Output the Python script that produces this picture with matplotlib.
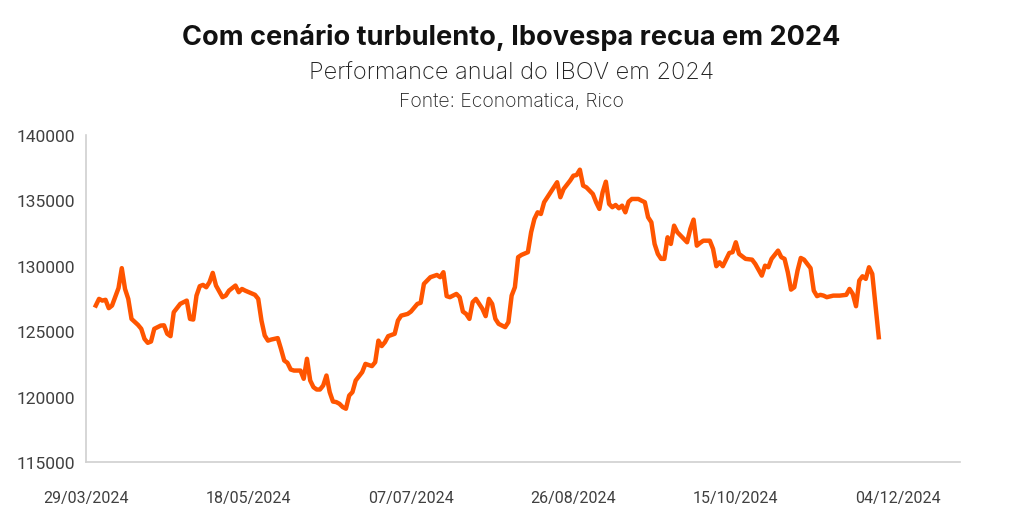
import pandas as pd
import matplotlib.pyplot as plt
import matplotlib.dates as mdates

# Pontos (IBOV, fechamento aproximado)
datas = [
    "2024-04-01", "2024-04-02", "2024-04-03", "2024-04-04", "2024-04-05", "2024-04-06",
    "2024-04-08", "2024-04-09", "2024-04-10", "2024-04-11", "2024-04-12", "2024-04-14",
    "2024-04-15", "2024-04-16", "2024-04-17", "2024-04-18", "2024-04-19", "2024-04-21",
    "2024-04-22", "2024-04-23", "2024-04-24", "2024-04-25", "2024-04-27", "2024-04-29",
    "2024-04-30",
    "2024-05-01", "2024-05-02", "2024-05-03", "2024-05-04", "2024-05-05", "2024-05-06",
    "2024-05-07", "2024-05-08", "2024-05-10", "2024-05-11", "2024-05-12", "2024-05-14",
    "2024-05-15", "2024-05-16", "2024-05-17", "2024-05-20", "2024-05-21", "2024-05-22",
    "2024-05-23", "2024-05-24", "2024-05-25", "2024-05-27", "2024-05-28", "2024-05-29",
    "2024-05-30", "2024-05-31",
    "2024-06-01", "2024-06-03", "2024-06-04", "2024-06-05", "2024-06-06", "2024-06-07",
    "2024-06-08", "2024-06-09", "2024-06-10", "2024-06-11", "2024-06-12", "2024-06-13",
    "2024-06-14", "2024-06-15", "2024-06-16", "2024-06-17", "2024-06-18", "2024-06-19",
    "2024-06-20", "2024-06-22", "2024-06-23", "2024-06-25", "2024-06-26", "2024-06-27",
    "2024-06-28", "2024-06-29", "2024-06-30",
    "2024-07-02", "2024-07-03", "2024-07-04", "2024-07-06", "2024-07-07", "2024-07-09",
    "2024-07-10", "2024-07-11", "2024-07-12", "2024-07-13", "2024-07-15", "2024-07-16",
    "2024-07-17", "2024-07-18", "2024-07-19", "2024-07-21", "2024-07-22", "2024-07-23",
    "2024-07-24", "2024-07-25", "2024-07-26", "2024-07-27", "2024-07-28", "2024-07-29",
    "2024-07-30", "2024-07-31",
    "2024-08-01", "2024-08-02", "2024-08-03", "2024-08-05", "2024-08-06", "2024-08-07",
    "2024-08-08", "2024-08-09", "2024-08-10", "2024-08-12", "2024-08-13", "2024-08-14",
    "2024-08-15", "2024-08-16", "2024-08-17", "2024-08-19", "2024-08-20", "2024-08-21",
    "2024-08-22", "2024-08-23", "2024-08-25", "2024-08-26", "2024-08-27", "2024-08-28",
    "2024-08-29", "2024-08-30",
    "2024-09-01", "2024-09-02", "2024-09-03", "2024-09-04", "2024-09-05", "2024-09-06",
    "2024-09-07", "2024-09-08", "2024-09-09", "2024-09-10", "2024-09-11", "2024-09-12",
    "2024-09-13", "2024-09-15", "2024-09-16", "2024-09-17", "2024-09-18", "2024-09-19",
    "2024-09-20", "2024-09-21", "2024-09-22", "2024-09-23", "2024-09-24", "2024-09-25",
    "2024-09-26", "2024-09-27", "2024-09-29", "2024-09-30",
    "2024-10-01", "2024-10-02", "2024-10-03", "2024-10-04", "2024-10-05", "2024-10-07",
    "2024-10-08", "2024-10-09", "2024-10-10", "2024-10-11", "2024-10-12", "2024-10-13",
    "2024-10-14", "2024-10-15", "2024-10-16", "2024-10-18", "2024-10-20", "2024-10-21",
    "2024-10-23", "2024-10-24", "2024-10-25", "2024-10-26", "2024-10-28", "2024-10-29",
    "2024-10-30", "2024-10-31",
    "2024-11-01", "2024-11-02", "2024-11-03", "2024-11-04", "2024-11-05", "2024-11-07",
    "2024-11-08", "2024-11-09", "2024-11-10", "2024-11-11", "2024-11-12", "2024-11-14",
    "2024-11-16", "2024-11-18", "2024-11-19", "2024-11-20", "2024-11-21", "2024-11-22",
    "2024-11-23", "2024-11-24", "2024-11-25", "2024-11-26", "2024-11-28",
]

ibov = [
    126960, 127470, 127340, 127400, 126760, 126960,
    128300, 129820, 128230, 127470, 125940, 125480,
    125180, 124410, 124110, 124210, 125180, 125430,
    125450, 124800, 124620, 126450, 127090, 127340,
    125940,
    125890, 127720, 128440, 128540, 128360, 128750,
    129460, 128490, 127600, 127720, 128100, 128490,
    127980, 128230, 128100, 127780, 127470, 125810,
    124670, 124280, 124360, 124470, 123650, 122760,
    122580, 122070,
    121990, 121990, 121360, 122890, 121230, 120720,
    120540, 120540, 120850, 121610, 120340, 119620,
    119580, 119450, 119200, 119070, 120080, 120340,
    121230, 121870, 122500, 122330, 122630, 124280,
    123860, 124160, 124620,
    124800, 125810, 126190, 126320, 126500, 127090,
    127170, 128620, 128870, 129130, 129300, 129130,
    129510, 127680, 127600, 127850, 127600, 126500,
    126320, 125940, 127220, 127470, 127090, 126710,
    126150, 127470,
    127090, 125940, 125560, 125310, 125690, 127720,
    128360, 130660, 130830, 131040, 132570, 133580,
    134090, 133960, 134860, 135620, 136000, 136390,
    135240, 135870, 136510, 136890, 136940, 137350,
    136130, 136000,
    135490, 134860, 134350, 135620, 136430, 134730,
    134480, 134650, 134400, 134600, 134090, 134900,
    135110, 135110, 134980, 134860, 133710, 133330,
    131670, 130910, 130530, 130530, 132180, 131670,
    133070, 132570, 132050, 131800,
    132820, 133530, 131540, 131750, 131920, 131920,
    131290, 129970, 130270, 129970, 130470, 130980,
    131040, 131800, 130910, 130530, 130470, 130140,
    129250, 130010, 129890, 130530, 131160, 130660,
    130530, 129510,
    128180, 128360, 129630, 130600, 130470, 129820,
    128100, 127680, 127780, 127720, 127600, 127720,
    127720, 127780, 128230, 127850, 126910, 128870,
    129200, 129000, 129890, 129380, 124540,
]

ticks_x = ["2024-03-29", "2024-05-18", "2024-07-07", "2024-08-26", "2024-10-15", "2024-12-04"]
ticks_y = [115000, 120000, 125000, 130000, 135000, 140000]

df = pd.DataFrame({"data": pd.to_datetime(datas), "ibov": ibov})

fig = plt.figure(figsize=(10.23, 5.10), dpi=100)
ax = fig.add_axes([0.0841, 0.0922, 0.8543, 0.6411])

ax.plot(df["data"], df["ibov"], color="#FF5500", linewidth=3.2, solid_joinstyle="round")

ax.set_xlim(pd.Timestamp("2024-03-29"), pd.Timestamp("2024-12-23"))
ax.set_ylim(115000, 140000)
ax.set_xticks(pd.to_datetime(ticks_x))
ax.xaxis.set_major_formatter(mdates.DateFormatter("%d/%m/%Y"))
ax.set_yticks(ticks_y)
ax.set_yticklabels([str(v) for v in ticks_y])

for lbl in ax.get_xticklabels():
    lbl.set_fontfamily("Roboto")
    lbl.set_fontsize(11.5)
    lbl.set_color("#404040")
for lbl in ax.get_yticklabels():
    lbl.set_fontfamily("Roboto")
    lbl.set_fontsize(12.5)
    lbl.set_color("#404040")
ax.tick_params(axis="both", length=0)
ax.tick_params(axis="x", pad=20)
ax.tick_params(axis="y", pad=8)

for s in ["top", "right"]:
    ax.spines[s].set_visible(False)
for s in ["left", "bottom"]:
    ax.spines[s].set_color("#D0D0D0")
    ax.spines[s].set_linewidth(1.2)

fig.text(0.5, 0.927, "Com cenário turbulento, Ibovespa recua em 2024", ha="center", va="center",
         fontsize=19.5, fontweight="bold", family="Inter", color="#111111")
fig.text(0.5, 0.857, "Performance anual do IBOV em 2024", ha="center", va="center",
         fontsize=17, fontweight="light", family="Inter", color="#222222")
fig.text(0.5, 0.800, "Fonte: Economatica, Rico", ha="center", va="center",
         fontsize=14, fontweight="light", family="Inter", color="#222222")

fig.savefig("out.png", dpi=100, facecolor="white")
